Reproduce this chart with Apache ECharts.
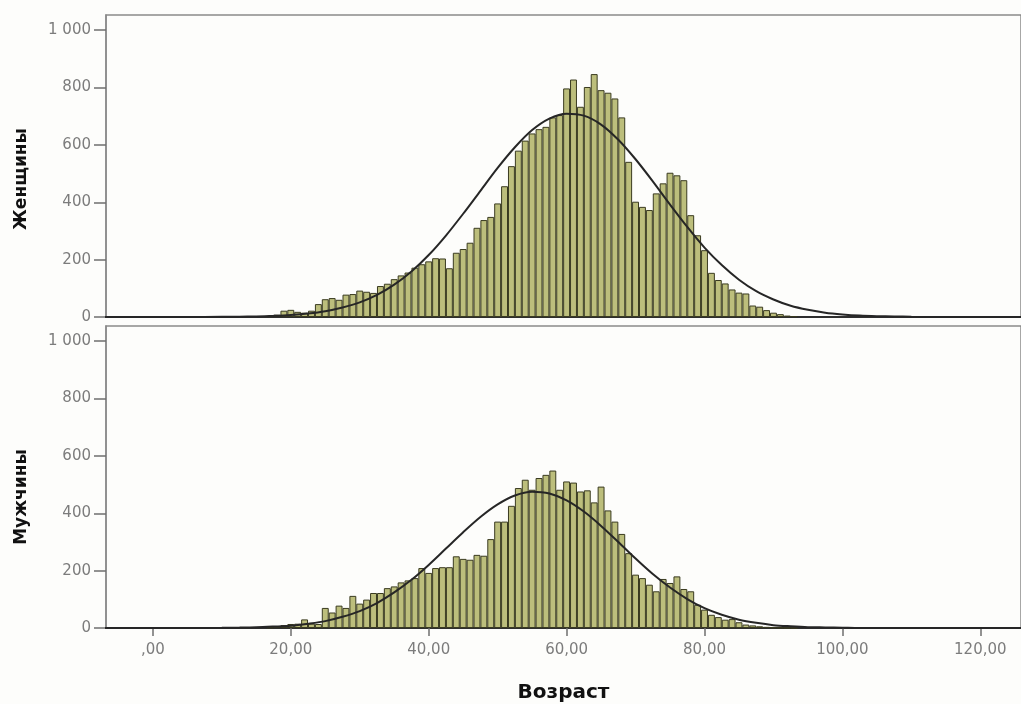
<!DOCTYPE html>
<html>
<head>
<meta charset="utf-8">
<script src="https://cdn.jsdelivr.net/npm/echarts@6/dist/echarts.min.js"></script>
<style>
  html, body { margin: 0; padding: 0; background: #fdfdfb; }
  #chart { width: 1021px; height: 704px; }
</style>
</head>
<body>
<div id="chart"></div>
<script>
// возраст (центры столбцов, шаг 1 год)
var ages = [17, 18, 19, 20, 21, 22, 23, 24, 25, 26, 27, 28, 29, 30, 31, 32, 33, 34, 35, 36,
  37, 38, 39, 40, 41, 42, 43, 44, 45, 46, 47, 48, 49, 50, 51, 52, 53, 54, 55, 56,
  57, 58, 59, 60, 61, 62, 63, 64, 65, 66, 67, 68, 69, 70, 71, 72, 73, 74, 75, 76,
  77, 78, 79, 80, 81, 82, 83, 84, 85, 86, 87, 88, 89, 90, 91, 92, 93];

var women = [3, 8, 22, 25, 18, 15, 22, 45, 62, 66, 60, 78, 80, 92, 88, 84, 108, 116, 132, 145,
  155, 172, 184, 194, 205, 204, 170, 224, 237, 259, 311, 338, 349, 396, 456, 526, 580, 615, 640, 655,
  663, 696, 704, 797, 828, 733, 802, 847, 791, 782, 762, 696, 541, 402, 384, 373, 431, 466, 503, 494,
  477, 355, 285, 233, 154, 129, 117, 96, 85, 82, 40, 36, 24, 15, 10, 5, 3];

var men = [2, 5, 10, 14, 15, 30, 15, 14, 70, 54, 78, 70, 112, 85, 99, 122, 122, 139, 145, 159,
  166, 174, 209, 192, 209, 212, 212, 250, 241, 238, 255, 252, 310, 371, 371, 426, 488, 517, 482, 523,
  534, 549, 482, 511, 507, 476, 480, 438, 493, 410, 371, 328, 261, 186, 174, 151, 128, 171, 157, 180,
  136, 128, 81, 64, 46, 38, 29, 31, 20, 12, 9, 6, 4, 2, 1, 0, 0];

// кривая нормального распределения
var curveAges = [-7, 0, 5, 10, 12.5, 15, 17.5, 20, 22.5, 25, 27.5, 30, 32.5, 35, 37.5, 40, 42.5, 45,
  47.5, 50, 52.5, 55, 57.5, 60, 62.5, 65, 67.5, 70, 72.5, 75, 77.5, 80, 82.5, 85, 87.5, 90,
  92.5, 95, 97.5, 100, 102.5, 105, 107.5, 110, 115, 126];

var womenCurve = [0, 0, 0, 0.5, 1, 2, 4, 7, 12, 20, 33, 51, 77, 113, 159, 216, 284, 360,
  440, 520, 592, 652, 692, 709, 702, 671, 618, 550, 473, 392, 314, 242, 181, 130, 90, 61,
  39, 25, 15, 9, 5, 3, 2, 1, 0, 0];

var menCurve = [0, 0, 0, 0.6, 1.3, 2.5, 5, 8, 15, 24, 39, 59, 87, 124, 168, 220, 277, 334,
  387, 431, 462, 475, 469, 445, 406, 356, 300, 242, 188, 141, 101, 69, 46, 29, 18, 10,
  6, 3, 2, 1, 0, 0, 0, 0, 0, 0];

var xTicks = [0, 20, 40, 60, 80, 100, 120];
var yTicks = [0, 200, 400, 600, 800, 1000];
var panelNames = ['Женщины', 'Мужчины'];

var xMin = -6.8, xMax = 125.9;
var plotLeft = 106, plotWidth = 918;
var barW = plotWidth / (xMax - xMin);

function pairs(xs, ys) {
  var out = [];
  for (var i = 0; i < xs.length; i++) out.push([xs[i], ys[i]]);
  return out;
}

function fmtY(v) {
  return v == 1000 ? '1 000' : String(v);
}

function fmtX(v) {
  return v == 0 ? ',00' : v + ',00';
}

var labelStyle = { color: '#7c7c7c', fontSize: 15, fontFamily: 'DejaVu Sans' };
var frameColor = '#8a8a8a';

function yAxisCfg(gi) {
  return {
    type: 'value', gridIndex: gi, min: 0, max: 1053,
    axisLine: { show: true, onZero: false, lineStyle: { color: frameColor, width: 1.5 } },
    axisTick: { show: true, length: 12, customValues: yTicks, lineStyle: { color: '#6f6f6f', width: 1.5 } },
    axisLabel: Object.assign({ margin: 15, customValues: yTicks, formatter: fmtY }, labelStyle),
    splitLine: { show: false }
  };
}

function xAxisCfg(gi, withLabels) {
  return {
    type: 'value', gridIndex: gi, min: xMin, max: xMax,
    axisLine: { show: true, onZero: false, lineStyle: { color: '#2e2e2e', width: 2 } },
    axisTick: { show: withLabels, length: 8, customValues: xTicks, lineStyle: { color: '#6f6f6f', width: 1.5 } },
    axisLabel: Object.assign({ show: withLabels, margin: 15, customValues: xTicks, formatter: fmtX }, labelStyle),
    splitLine: { show: false },
    name: withLabels ? 'Возраст' : '',
    nameLocation: 'middle',
    nameGap: 55,
    nameTextStyle: { color: '#111', fontSize: 20, fontWeight: 'bold', fontFamily: 'DejaVu Sans' }
  };
}

function barSeries(gi, values) {
  return {
    type: 'bar', xAxisIndex: gi, yAxisIndex: gi,
    data: pairs(ages, values),
    barWidth: barW,
    itemStyle: { color: '#bcbe7c', borderColor: '#3a3b20', borderWidth: 1 },
    silent: true
  };
}

function curveSeries(gi, values) {
  return {
    type: 'line', xAxisIndex: gi, yAxisIndex: gi,
    data: pairs(curveAges, values),
    smooth: 0.3, showSymbol: false, clip: false,
    lineStyle: { color: '#262626', width: 2 },
    silent: true
  };
}

function nameText(text, y) {
  return {
    type: 'text', x: 22, y: y, rotation: Math.PI / 2,
    style: {
      text: text, fill: '#111', textAlign: 'center', textVerticalAlign: 'middle',
      font: 'bold 17px "DejaVu Sans"'
    }
  };
}

var chart = echarts.init(document.getElementById('chart'));
chart.setOption({
  backgroundColor: '#fdfdfb',
  animation: false,
  grid: [
    { left: plotLeft, top: 15, width: plotWidth, height: 302, show: true, borderColor: frameColor, borderWidth: 1.5 },
    { left: plotLeft, top: 326, width: plotWidth, height: 302, show: true, borderColor: frameColor, borderWidth: 1.5 }
  ],
  xAxis: [xAxisCfg(0, false), xAxisCfg(1, true)],
  yAxis: [yAxisCfg(0), yAxisCfg(1)],
  series: [
    barSeries(0, women), curveSeries(0, womenCurve),
    barSeries(1, men), curveSeries(1, menCurve)
  ],
  graphic: [nameText(panelNames[0], 179), nameText(panelNames[1], 497)]
});
</script>
</body>
</html>
